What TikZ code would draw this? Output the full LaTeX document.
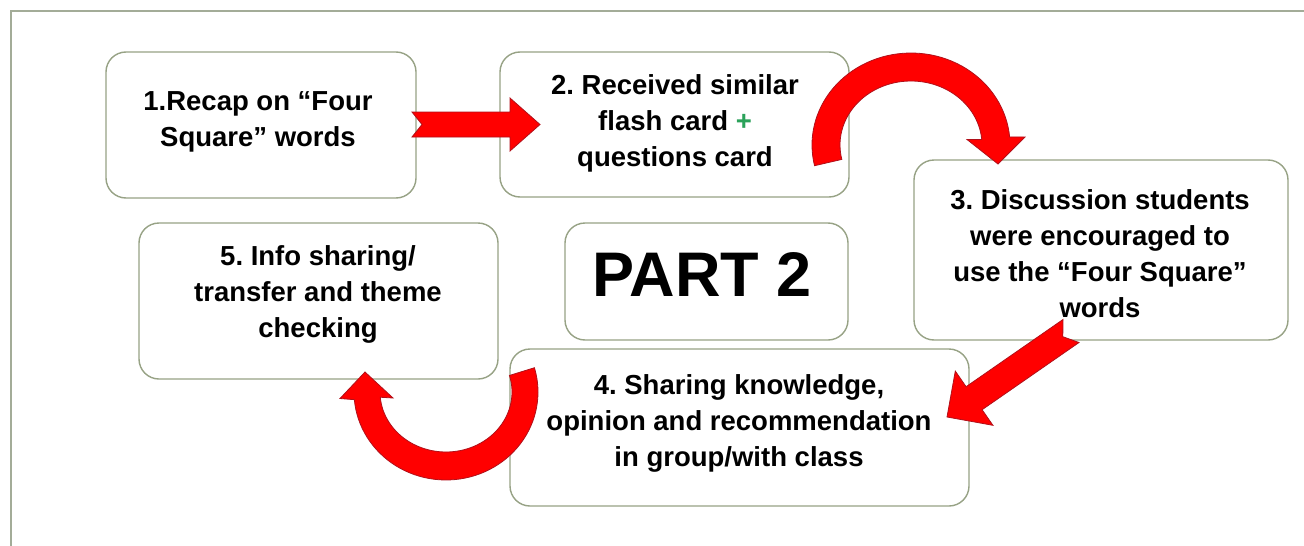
\documentclass[tikz,border=0pt]{standalone}
\usepackage{fontspec}
\setmainfont{Liberation Sans}
\frenchspacing
\definecolor{boxc}{HTML}{97A285}
\definecolor{framec}{HTML}{A3AC98}
\definecolor{arrowred}{HTML}{FF0000}
\definecolor{arrowedge}{HTML}{B0101A}
\definecolor{plusgreen}{HTML}{2BA25A}
\begin{document}
\begin{tikzpicture}[x=1pt,y=-1pt,
  card/.style={draw=boxc, line width=1.4pt, rounded corners=20pt, fill=white, inner sep=0pt},
  txt/.style={align=center, font=\bfseries\fontsize{27.5}{36}\selectfont, inner sep=0pt},
  bigtxt/.style={font=\bfseries\fontsize{63}{70}\selectfont, inner sep=0pt},
  blockarrow/.style={fill=arrowred, draw=arrowedge, line width=0.8pt, line join=miter}]
\useasboundingbox (0,0) rectangle (1304,546);
\clip (0,0) rectangle (1304,546);
\fill[white] (0,0) rectangle (1304,546);
\draw[framec, line width=2pt] (10.5,10.5) rectangle (1340,600);

% boxes
\node[card, minimum width=310pt, minimum height=146pt] (b1) at (261,125) {};
\node[card, minimum width=349pt, minimum height=145pt] (b2) at (674.5,124.5) {};
\node[card, minimum width=374pt, minimum height=180pt] (b3) at (1101,250) {};
\node[card, minimum width=359pt, minimum height=156pt] (b5) at (318.5,301) {};
\node[card, minimum width=283pt, minimum height=117pt] (bp) at (706.5,281.5) {};
\node[card, minimum width=459pt, minimum height=157pt] (b4) at (739.5,427.5) {};

% texts
\node[txt] (t1) at (258,122) {1.Recap on “Four\\Square” words};
\node[txt] (t2) at (675,123) {2. Received similar\\flash card {\color{plusgreen}+}\\questions card};
\node[txt] (t3) at (1100,254) {3. Discussion students\\were encouraged to\\use the “Four Square”\\words};
\node[txt] (t5) at (318,294) {5. Info sharing/\\transfer and theme\\checking};
\node[bigtxt] (tp) at (702,274.5) {PART 2};
\node[txt] (t4) at (739,423) {4. Sharing knowledge,\\opinion and recommendation\\in group/with class};

% arrow 1 -> 2
\draw[blockarrow] (412,112) -- (510,112) -- (510,98) -- (540,124.5) -- (510,151)
  -- (510,137) -- (412,137) -- (422,124.5) -- cycle;

% arrow 2 -> 3 (curved)
\draw[blockarrow] plot[domain=167:355, samples=60] ({911+99*cos(\x)},{145+92*sin(\x)})
  -- (1025,137) -- (998,164) -- (967,139.5)
  -- plot[domain=355:167, samples=60] ({911+71*cos(\x)},{145+64*sin(\x)}) -- cycle;

% arrow 3 -> 4 (diagonal)
\draw[blockarrow] (1063,319.5) -- (966.1,386.7) -- (955.3,371.1) -- (947,417)
  -- (992.9,425.3) -- (982.1,409.7) -- (1079,342.5) -- (1062.8,336.7) -- cycle;

% arrow 4 -> 5 (curved)
\draw[blockarrow] plot[domain=-16:175, samples=60] ({446+92*cos(\x)},{392+88*sin(\x)})
  -- (340,398.5) -- (365,372) -- (393,398)
  -- plot[domain=175:-16, samples=60] ({446+66*cos(\x)},{392+60*sin(\x)}) -- cycle;
\end{tikzpicture}
\end{document}
